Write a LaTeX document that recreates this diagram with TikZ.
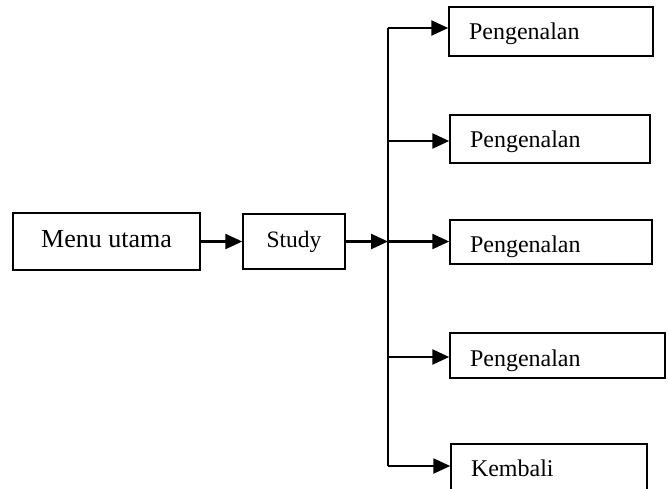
\documentclass[tikz,border=0pt]{standalone}
\usepackage{fontspec}
\setmainfont{Liberation Serif}
\usetikzlibrary{arrows.meta,positioning}
\tikzset{%
	block/.style    = {draw, rectangle, line width=1.5pt, minimum height = 55pt, text depth=5pt, align=center}, % Main box
	choice/.style   = {draw, rectangle, line width=1.5pt, inner xsep=20pt, inner ysep=0pt, align=left, text height=21pt, text depth=5pt, font=\fontsize{24}{28}\selectfont}, % Submenu box
	lowtext/.style  = {text height=26pt}, % Text sits low in box
	waypoint/.style = {coordinate}, % Branch point
	arrow/.style    = {line width=2.5pt,-{Triangle[length=17pt,width=15pt]}},
	trunk/.style    = {line width=1.7pt},
}

\begin{document}
\begin{tikzpicture}[x=1pt,y=-1pt,node distance=187.5pt]
	\useasboundingbox (0,0) rectangle (669,488);
	\node [block,minimum width=187pt,minimum height=57pt,font=\fontsize{26}{30}\selectfont] (menu) at (106.5,241.5) {Menu utama};
	\node [block,minimum width=102pt,font=\fontsize{23.5}{28}\selectfont] (study) [right of=menu] {Study};
	\node [waypoint] (bc) at (388,241.5) {};
	\node [waypoint] (b1) at (388,28) {};
	\node [waypoint] (b2) at (388,141) {};
	\node [waypoint] (b4) at (388,357) {};
	\node [waypoint] (b5) at (388,466) {};
	
	\node [choice,text width=164pt,minimum height=49pt] (p1) at (551,31.5) {Pengenalan};
	\node [choice,text width=160pt,minimum height=48pt] (p2) at (550,139) {Pengenalan};
	\node [choice,lowtext,text width=162pt,minimum height=44pt] (p3) at (551,242) {Pengenalan};
	\node [choice,lowtext,text width=175pt,minimum height=45pt] (p4) at (557.5,355.5) {Pengenalan};
	\node [choice,text width=156pt,minimum height=48pt] (kembali) at (549,468) {Kembali};
	
	\draw[arrow] (menu) -- (study);
	\draw[arrow] (study) -- (bc);
	\draw[trunk] (b1) -- (b5);
	\draw[arrow] (b1) -- (b1 -| p1.west);
	\draw[arrow] (b2) -- (b2 -| p2.west);
	\draw[arrow] (bc) -- (bc -| p3.west);
	\draw[arrow] (b4) -- (b4 -| p4.west);
	\draw[arrow] (b5) -- (b5 -| kembali.west);
\end{tikzpicture}
\end{document}
